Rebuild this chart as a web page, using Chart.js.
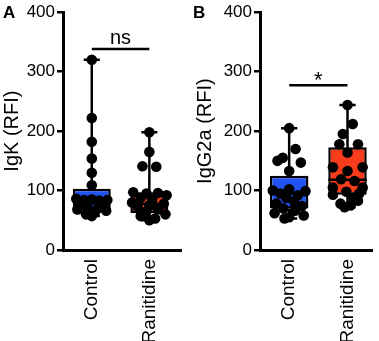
<!DOCTYPE html>
<html>
<head>
<meta charset="utf-8">
<script src="https://cdn.jsdelivr.net/npm/chart.js@4.4.1/dist/chart.umd.min.js"></script>
<style>
  html, body { margin: 0; padding: 0; background: #fff; }
  #wrap { position: relative; width: 379px; height: 341px; }
  .panel { position: absolute; top: 0; height: 341px; }
</style>
</head>
<body>
<div id="wrap">
  <div class="panel" style="left:0;width:190px"><canvas id="chart-a" width="190" height="341"></canvas></div>
  <div class="panel" style="left:190px;width:189px"><canvas id="chart-b" width="189" height="341"></canvas></div>
</div>
<script>
// Two box-and-whisker panels (min to max) with every sample overlaid

const GROUPS = ['Control', 'Ranitidine'];
const BOX_FILL = ['#2152f2', '#f93c1b'];

// Panel A: IgK (RFI)
const A_CONTROL = [320, 222, 182, 154, 130, 109, 86, 84, 85, 83, 84, 78, 76, 73, 70, 68, 66, 63, 60, 57];
const A_CONTROL_JITTER = [0, 0, 0, 0, 0, 0, -0.27, -0.13, 0, 0.13, 0.27, -0.2, 0.2, -0.08, 0.1, -0.25, 0.25, 0.05, -0.1, 0];
const A_RANITIDINE = [198, 165, 141, 140, 97, 95, 96, 92, 88, 85, 80, 78, 75, 72, 68, 65, 60, 57, 53, 50];
const A_RANITIDINE_JITTER = [0, 0, -0.12, 0.12, -0.28, -0.05, 0.15, 0.3, -0.15, 0.05, -0.3, 0.25, 0, -0.2, 0.15, -0.05, 0.28, -0.15, 0.1, 0];
const A_MIN = [57, 50];
const A_Q1 = [67, 62];
const A_MEDIAN = [82, 78];
const A_Q3 = [103, 97];
const A_MAX = [320, 198];

// Panel B: IgG2a (RFI)
const B_CONTROL = [205, 170, 155, 150, 147, 133, 102, 100, 99, 95, 92, 88, 82, 78, 74, 70, 66, 62, 58, 55, 53];
const B_CONTROL_JITTER = [0, 0.11, -0.11, -0.2, 0.2, 0, 0, -0.28, 0.28, -0.15, 0.15, -0.05, 0.08, -0.22, 0.22, -0.1, 0.1, -0.25, 0.25, 0, -0.08];
const B_RANITIDINE = [244, 212, 195, 178, 178, 164, 139, 139, 133, 119, 116, 105, 105, 98, 95, 93, 88, 83, 78, 75, 72];
const B_RANITIDINE_JITTER = [0, 0.09, -0.08, -0.14, 0.18, 0, -0.25, 0.26, 0, -0.11, 0.12, -0.25, 0.26, -0.02, 0.2, -0.25, 0.1, 0.18, -0.12, 0.05, -0.05];
const B_MIN = [53, 72];
const B_Q1 = [70, 93];
const B_MEDIAN = [95, 118];
const B_Q3 = [125, 173];
const B_MAX = [205, 244];

const Y_TICKS = [0, 100, 200, 300, 400];

const FONT = "'Liberation Sans', Arial, Helvetica, sans-serif";
Chart.defaults.font.family = FONT;
Chart.defaults.color = '#000';

const BOX_HALF = 0.33;  // half box width, x units
const CAP_HALF = 0.14;  // half whisker cap width

// join segments into one line dataset, broken by null gaps
function segments(list) {
  const out = [];
  list.forEach((seg) => {
    out.push(seg[0], seg[1], { x: seg[1].x + 0.01, y: null });
  });
  return out;
}

const annotate = {
  id: 'annotate',
  afterDatasetsDraw(chart, args, opts) {
    const { ctx, scales: { x, y } } = chart;
    ctx.save();
    ctx.fillStyle = '#000';
    ctx.textBaseline = 'alphabetic';
    ctx.textAlign = 'left';
    ctx.font = 'bold 17px ' + FONT;
    ctx.fillText(opts.letter, 3, 18);
    ctx.textAlign = 'center';
    ctx.font = opts.sigSize + 'px ' + FONT;
    const cx = (x.getPixelForValue(1) + x.getPixelForValue(2)) / 2;
    ctx.fillText(opts.sig, cx, y.getPixelForValue(opts.sigY) + opts.sigOffset);
    ctx.restore();
  }
};

function renderPanel(id, p) {
  const el = document.getElementById(id);

  const boxes = GROUPS.map((g, i) => ({ x: i + 1, y: [p.q1[i], p.q3[i]] }));

  const points = [];
  p.values.forEach((vals, gi) => {
    vals.forEach((v, j) => points.push({ x: gi + 1 + p.jitter[gi][j], y: v }));
  });

  const whiskers = segments(GROUPS.flatMap((g, i) => [
    [{ x: i + 1, y: p.q3[i] }, { x: i + 1, y: p.max[i] }],
    [{ x: i + 1, y: p.min[i] }, { x: i + 1, y: p.q1[i] }],
    [{ x: i + 1 - CAP_HALF, y: p.max[i] }, { x: i + 1 + CAP_HALF, y: p.max[i] }],
    [{ x: i + 1 - CAP_HALF, y: p.min[i] }, { x: i + 1 + CAP_HALF, y: p.min[i] }]
  ]));

  const medians = segments(GROUPS.map((g, i) => [
    { x: i + 1 - BOX_HALF, y: p.median[i] }, { x: i + 1 + BOX_HALF, y: p.median[i] }
  ]));

  const bracket = [{ x: 1, y: p.sigY }, { x: 2, y: p.sigY }];

  const lineStyle = {
    type: 'line',
    borderColor: '#000',
    borderWidth: 2.5,
    pointRadius: 0,
    fill: false,
    spanGaps: false,
    tension: 0
  };

  new Chart(el.getContext('2d'), {
    type: 'scatter',
    data: {
      datasets: [
        {
          label: 'Samples',
          type: 'scatter',
          data: points,
          pointRadius: 5.3,
          pointBackgroundColor: '#000',
          pointBorderWidth: 0,
          order: 0
        },
        { ...lineStyle, label: 'Median', data: medians, order: 1 },
        { ...lineStyle, label: 'Whiskers', data: whiskers, order: 1 },
        { ...lineStyle, label: 'Bracket', data: bracket, order: 1 },
        {
          label: 'Box',
          type: 'bar',
          data: boxes,
          backgroundColor: BOX_FILL,
          borderColor: '#000',
          borderWidth: 2.5,
          borderSkipped: false,
          categoryPercentage: 1,
          barPercentage: BOX_HALF * 2,
          order: 2
        }
      ]
    },
    options: {
      responsive: false,
      animation: false,
      layout: { padding: { left: p.padLeft, right: p.padRight, top: 2, bottom: 0 } },
      plugins: {
        legend: { display: false },
        tooltip: { enabled: false },
        annotate: { letter: p.letter, sig: p.sig, sigY: p.sigY, sigSize: p.sigSize, sigOffset: p.sigOffset }
      },
      scales: {
        x: {
          type: 'linear',
          offset: false,
          min: p.xMin,
          max: p.xMax,
          afterBuildTicks: (s) => { s.ticks = GROUPS.map((g, i) => ({ value: i + 1 })); },
          afterFit: (s) => { s.height = 91; },
          ticks: {
            callback: (v) => GROUPS[v - 1],
            minRotation: 90,
            maxRotation: 90,
            autoSkip: false,
            padding: 1,
            font: { size: 19 },
            color: '#000'
          },
          grid: { display: false, offset: false },
          border: { display: true, color: '#000', width: 3 }
        },
        y: {
          min: 0,
          max: 400,
          afterBuildTicks: (s) => { s.ticks = Y_TICKS.map((v) => ({ value: v })); },
          afterFit: (s) => { s.width = p.yWidth; },
          title: { display: true, text: p.title, font: { size: 20 }, color: '#000', padding: 0 },
          ticks: { font: { size: 17 }, color: '#000', padding: 2 },
          grid: { display: true, drawOnChartArea: false, drawTicks: true, tickLength: 6, color: '#000', lineWidth: 2.5 },
          border: { display: true, color: '#000', width: 3 }
        }
      }
    },
    plugins: [annotate]
  });
}

renderPanel('chart-a', {
  letter: 'A',
  title: 'IgK (RFI)',
  values: [A_CONTROL, A_RANITIDINE],
  jitter: [A_CONTROL_JITTER, A_RANITIDINE_JITTER],
  min: A_MIN, q1: A_Q1, median: A_MEDIAN, q3: A_Q3, max: A_MAX,
  sig: 'ns', sigY: 338, sigSize: 20, sigOffset: -5,
  xMin: 0.5, xMax: 2.55,
  padLeft: 0, padRight: 9, yWidth: 63
});

renderPanel('chart-b', {
  letter: 'B',
  title: 'IgG2a (RFI)',
  values: [B_CONTROL, B_RANITIDINE],
  jitter: [B_CONTROL_JITTER, B_RANITIDINE_JITTER],
  min: B_MIN, q1: B_Q1, median: B_MEDIAN, q3: B_Q3, max: B_MAX,
  sig: '*', sigY: 277, sigSize: 22, sigOffset: 2,
  xMin: 0.5, xMax: 2.42,
  padLeft: 3, padRight: 7, yWidth: 67
});
</script>
</body>
</html>
